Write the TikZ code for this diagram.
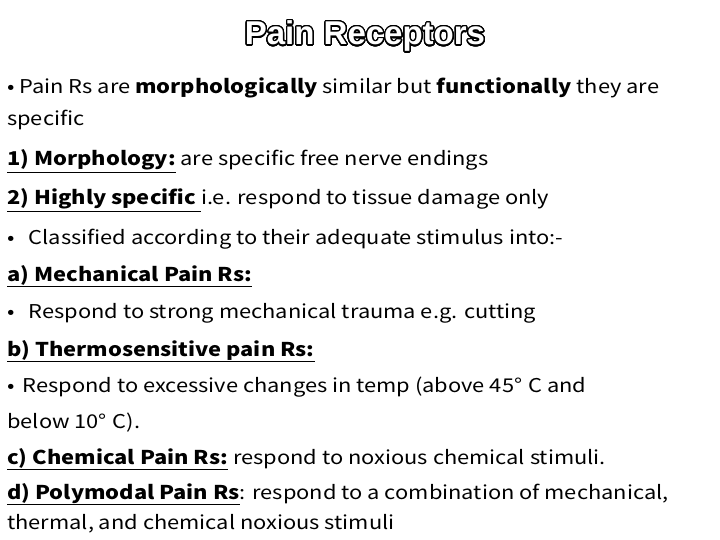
\documentclass[tikz,border=0pt]{standalone}
\usepackage{fontspec}
\setmainfont{Noto Sans CJK JP}[FakeStretch=1.15]
\newfontfamily\ttl{Liberation Sans}
\usepackage{contour}
\contourlength{1.3pt}
\contournumber{32}
\begin{document}
\begin{tikzpicture}[x=1pt,y=-1pt,
  ln/.style={anchor=base west,inner sep=0pt,font=\fontsize{19}{22}\selectfont}]
\useasboundingbox (0,0) rectangle (720,540);
\node[anchor=center,inner sep=0pt] (t) at (365,37) {\ttl\bfseries\fontsize{33}{36}\selectfont\contour{black}{\textcolor{white}{Pain Receptors}}};
\node[ln] (l1) at (7,94) {• Pain Rs are \textbf{morphologically} similar but \textbf{functionally} they are};
\node[ln] (l2) at (7,126) {specific};
\node[ln] (l3) at (7,166) {\textbf{\underline{1) Morphology:}} are specific free nerve endings};
\node[ln] (l4) at (7,205) {\textbf{\underline{2) Highly specific }}i.e. respond to tissue damage only};
\node[ln] (l5) at (7,244) {•\hspace{14pt}Classified according to their adequate stimulus into:-};
\node[ln] (l6) at (7,281) {\textbf{\underline{a) Mechanical Pain Rs:}}};
\node[ln] (l7) at (7,318) {•\hspace{14pt}Respond to strong mechanical trauma e.g. cutting};
\node[ln] (l8) at (7,356) {\textbf{\underline{b) Thermosensitive pain Rs:}}};
\node[ln] (l9) at (7,392) {•\hspace{8pt}Respond to excessive changes in temp (above 45°\hspace{6pt}C and};
\node[ln] (l10) at (7,428) {below 10°\hspace{6pt}C).};
\node[ln] (l11) at (7,464) {\textbf{\underline{c) Chemical Pain Rs:}} respond to noxious chemical stimuli.};
\node[ln] (l12) at (7,499) {\textbf{\underline{d) Polymodal Pain Rs}}: respond to a combination of mechanical,};
\node[ln] (l13) at (7,529) {thermal, and chemical noxious stimuli};
\end{tikzpicture}
\end{document}
